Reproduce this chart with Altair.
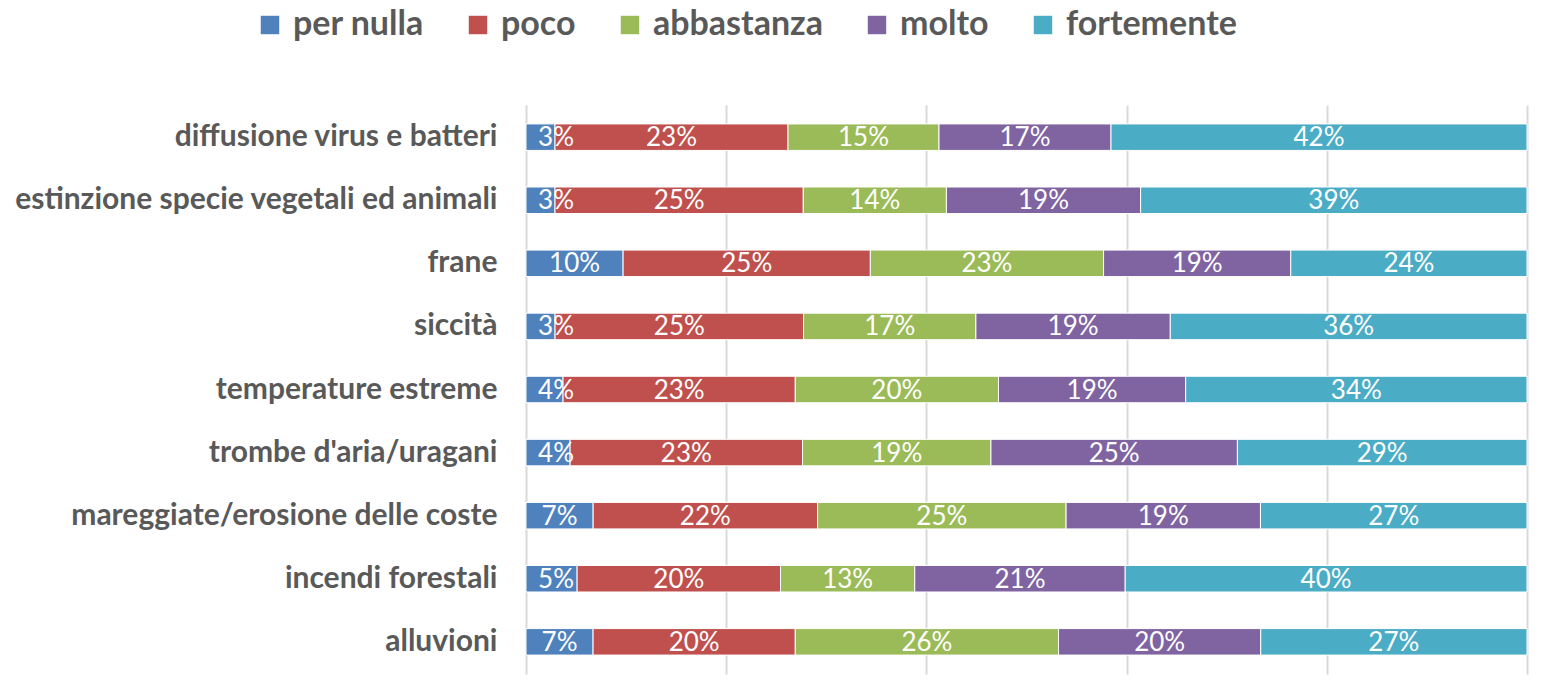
import altair as alt
import pandas as pd

categories = [
    "diffusione virus e batteri",
    "estinzione specie vegetali ed animali",
    "frane",
    "siccità",
    "temperature estreme",
    "trombe d'aria/uragani",
    "mareggiate/erosione delle coste",
    "incendi forestali",
    "alluvioni",
]
levels = ["per nulla", "poco", "abbastanza", "molto", "fortemente"]
colors = ["#4F81BD", "#C0504D", "#9BBB59", "#8064A2", "#4BACC6"]

per_nulla = [2.9, 2.9, 9.7, 2.9, 3.7, 4.4, 6.7, 5.1, 6.7]
poco = [23.3, 24.8, 24.7, 24.8, 23.2, 23.2, 22.4, 20.3, 20.2]
abbastanza = [15.1, 14.3, 23.3, 17.2, 20.3, 18.8, 24.8, 13.4, 26.3]
molto = [17.2, 19.4, 18.7, 19.4, 18.7, 24.6, 19.4, 21.0, 20.2]
fortemente = [41.6, 38.6, 23.6, 35.6, 34.1, 28.9, 26.6, 40.1, 26.6]

series = [per_nulla, poco, abbastanza, molto, fortemente]
rows = []
for li, (lvl, vals) in enumerate(zip(levels, series)):
    for ci, cat in enumerate(categories):
        rows.append({"cat": cat, "level": lvl, "ord": li, "value": vals[ci],
                     "label": f"{int(vals[ci] + 0.5):d}%"})
df = pd.DataFrame(rows)

base = alt.Chart(df).transform_stack(
    stack="value", groupby=["cat"], as_=["v0", "v1"],
    sort=[alt.SortField("ord", order="ascending")], offset="normalize"
).transform_calculate(mid="max((datum.v0 + datum.v1) / 2, 0.03)")

yenc = alt.Y("cat:N", sort=categories, title=None,
             scale=alt.Scale(paddingInner=0.58, paddingOuter=0.3),
             axis=alt.Axis(labelFont="Lato", labelFontSize=30, labelFontWeight="bold",
                           labelColor="#595959", ticks=False, domain=False,
                           labelPadding=29, labelLimit=700))

bars = base.mark_bar(stroke="white", strokeWidth=1).encode(
    x=alt.X("v0:Q", scale=alt.Scale(domain=[0, 1], nice=False),
            axis=alt.Axis(values=[0, 0.2, 0.4, 0.6, 0.8, 1.0], labels=False, ticks=False,
                          domain=False, grid=True, gridColor="#D9D9D9", gridWidth=2,
                          title=None)),
    x2="v1:Q",
    y=yenc,
    color=alt.Color("level:N", sort=levels,
                    scale=alt.Scale(domain=levels, range=colors),
                    legend=alt.Legend(orient="none", direction="horizontal", title=None,
                                      legendX=-273, legendY=-97, padding=0,
                                      labelFont="Lato", labelFontSize=34,
                                      labelFontWeight="bold", labelColor="#595959",
                                      labelLimit=500,
                                      symbolType="square", symbolSize=340,
                                      symbolStrokeWidth=0, labelOffset=6,
                                      columnPadding=37)),
)

texts = base.mark_text(color="white", font="Lato", fontSize=26, baseline="middle",
                       align="center", dy=1).encode(
    x="mid:Q",
    y=alt.Y("cat:N", sort=categories),
    text="label:N",
)

chart = (bars + texts).properties(
    width=1525, height=671,
    padding={"left": 5, "top": 97, "right": 5, "bottom": 5},
    autosize=alt.AutoSizeParams(type="fit", contains="padding"),
).configure_view(stroke=None)

chart.save("out.html", embed_options={"renderer": "svg", "actions": False})
